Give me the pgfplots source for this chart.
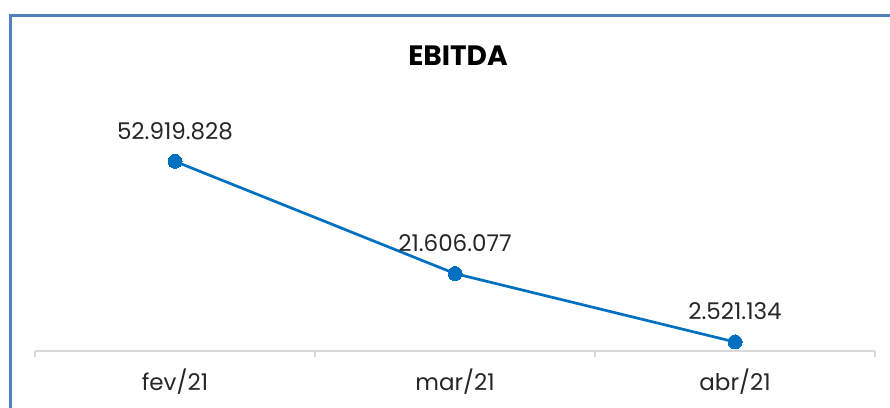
\documentclass[border=0pt]{standalone}
\usepackage{fontspec}
\setmainfont{Poppins}
\usepackage{pgfplots}
\pgfplotsset{compat=1.18}
\definecolor{frameblue}{RGB}{79,129,189}
\definecolor{lineblue}{RGB}{0,112,192}
\definecolor{axgray}{RGB}{217,217,217}
\definecolor{txt}{RGB}{38,38,38}
\begin{document}
\begin{tikzpicture}
\useasboundingbox (0pt,0pt) rectangle (890pt,-407pt);
\begin{scope}
\clip (0pt,0pt) rectangle (890pt,-407pt);
\draw[frameblue, line width=3pt] (10pt,-15pt) rectangle (920pt,-440pt);
\end{scope}
\node[font=\bfseries\fontsize{28}{28}\selectfont, text=black, anchor=base, inner sep=0pt] at (458pt,-65pt) {EBITDA};
\begin{axis}[
  at={(35pt,-351pt)}, anchor=south west,
  scale only axis, width=840pt, height=215pt,
  xmin=-0.5, xmax=2.5, ymin=0, ymax=60000000,
  hide y axis, axis x line*=bottom,
  scaled y ticks=false,
  axis line style={axgray, line width=1.3pt},
  xtick={0,1,2}, xticklabels={fev/21,mar/21,abr/21},
  major tick length=0pt,
  extra x ticks={-0.5,0.5,1.5,2.5}, extra x tick labels={},
  extra x tick style={major tick length=6pt, tick align=outside, tick style={axgray, line width=1.3pt}},
  xticklabel style={font=\fontsize{23}{23}\selectfont, text=txt, anchor=base, yshift=-39pt, inner sep=0pt},
  clip=false,
  point meta=explicit symbolic,
  nodes near coords,
  nodes near coords style={font=\fontsize{23}{23}\selectfont, text=txt, anchor=base, yshift=22pt, inner sep=0pt},
]
\addplot[color=lineblue, line width=2.7pt, mark=*, mark size=7pt, mark options={fill=lineblue, draw=lineblue, line width=0pt}]
  coordinates {(0,52919828)[52.919.828] (1,21606077)[21.606.077] (2,2521134)[2.521.134]};
\end{axis}
\end{tikzpicture}
\end{document}
